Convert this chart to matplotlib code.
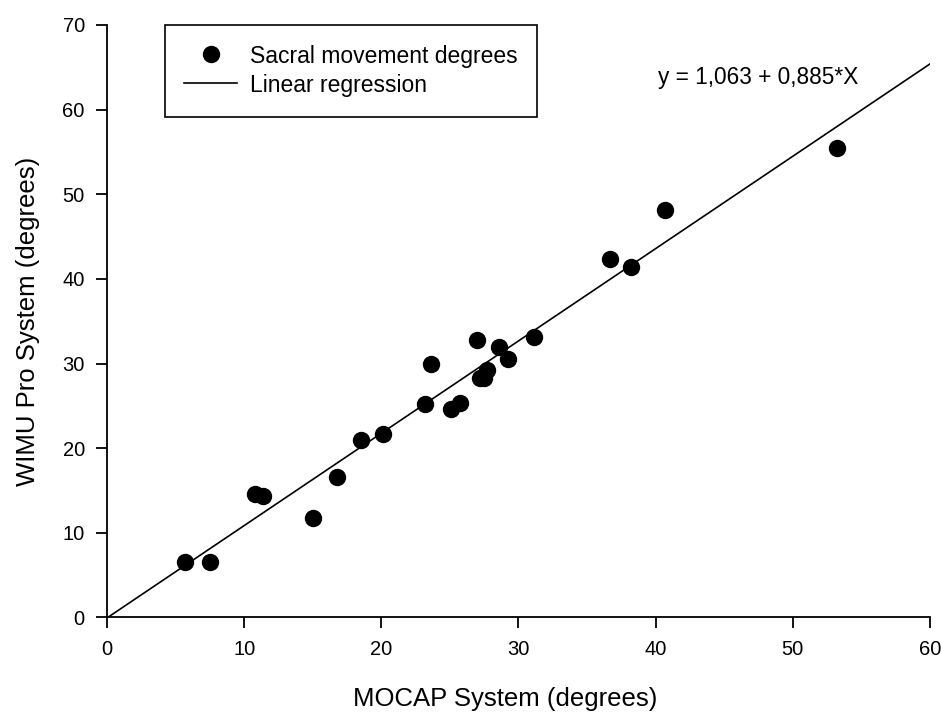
import numpy as np
import matplotlib
matplotlib.use("Agg")
import matplotlib.pyplot as plt

plt.rcParams['font.family'] = ['Liberation Sans', 'DejaVu Sans']

# MOCAP vs WIMU readings (degrees)
mocap = [5.7, 7.5, 10.8, 11.4, 15.0, 16.8, 18.5, 20.1, 23.2, 23.6, 25.1, 25.7,
         27.0, 27.2, 27.5, 27.7, 28.6, 29.2, 31.1, 36.7, 38.2, 40.7, 53.2]
wimu = [6.5, 6.5, 14.6, 14.3, 11.7, 16.6, 21.0, 21.7, 25.2, 29.9, 24.6, 25.3,
        32.8, 28.3, 28.3, 29.2, 32.0, 30.5, 33.1, 42.4, 41.4, 48.1, 55.5]

# regression line as drawn in the figure
reg_x = [0.05, 60.0]
reg_y = [0.0, 65.4]

eq_text = "y = 1,063 + 0,885*X"

fig = plt.figure(figsize=(9.41, 7.14), dpi=100)
ax = fig.add_axes([0.1137, 0.1352, 0.8746, 0.8298])

ax.plot(mocap, wimu, 'o', color='black', markersize=11.5, linestyle='none',
        label='Sacral movement degrees', zorder=3)
ax.plot(reg_x, reg_y, '-', color='black', linewidth=1.2, label='Linear regression')

ax.set_xlim(0, 60)
ax.set_ylim(0, 70)
ax.set_xticks(np.arange(0, 61, 10))
ax.set_yticks(np.arange(0, 71, 10))
ax.spines['top'].set_visible(False)
ax.spines['right'].set_visible(False)
for s in ['left', 'bottom']:
    ax.spines[s].set_linewidth(1.3)
ax.tick_params(direction='out', length=8, width=1.3, labelsize=14.5, pad=8)

ax.set_xlabel('MOCAP System (degrees)', fontsize=18.5, labelpad=20)
ax.xaxis.set_label_coords(0.484, -0.118)
ax.set_ylabel('WIMU Pro System (degrees)', fontsize=18.5, labelpad=16)

ax.text(0.67, 0.912, eq_text, transform=ax.transAxes, fontsize=16.3, va='center')

leg = ax.legend(loc='upper left', bbox_to_anchor=(0.0705, 1.0), fontsize=16.5,
                frameon=True, fancybox=False, edgecolor='black', framealpha=1,
                borderpad=0.85, handlelength=2.3, handletextpad=0.57,
                handleheight=1.05, labelspacing=0.25, borderaxespad=0)
leg.get_frame().set_linewidth(1.2)

fig.savefig('out.png', dpi=100)
